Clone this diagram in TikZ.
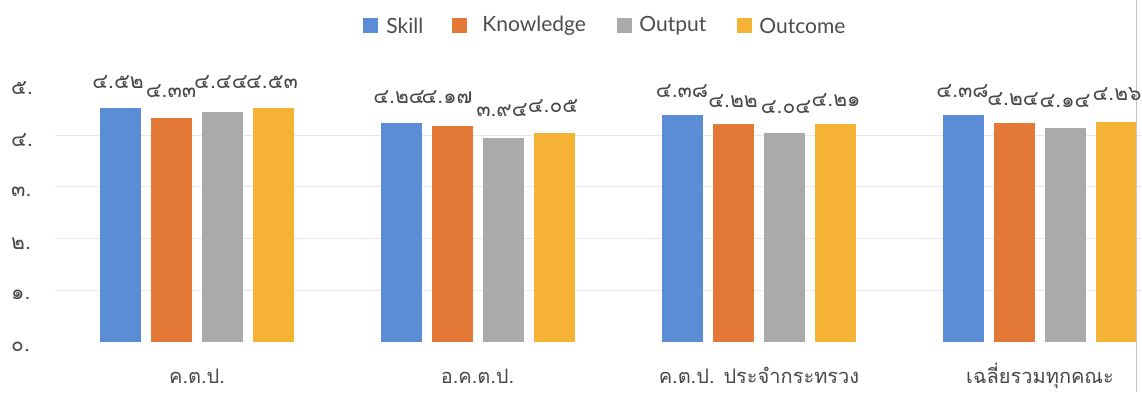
\documentclass[tikz,border=0pt]{standalone}
\usepackage{fontspec}
\setmainfont{Lato}
\newfontfamily\thaifont[Script=Thai]{Loma}
\usepackage{tikz}
\usetikzlibrary{positioning}
\definecolor{skillc}{RGB}{91,141,214}
\definecolor{knowc}{RGB}{228,120,55}
\definecolor{outputc}{RGB}{170,170,170}
\definecolor{outcomec}{RGB}{245,178,52}
\tikzstyle{skill}   = [fill=skillc]
\tikzstyle{know}    = [fill=knowc]
\tikzstyle{output}  = [fill=outputc]
\tikzstyle{outcome} = [fill=outcomec]
\tikzstyle{grid}    = [draw=black!9, line width=0.8pt]
\tikzstyle{val}     = [inner sep=0pt, text=black!72, font=\thaifont\fontsize{21}{24}\selectfont]
\tikzstyle{tick}    = [val, anchor=west, yshift=-5pt]
\tikzstyle{cat}     = [inner sep=0pt, anchor=base, text depth=0pt, text=black!72, font=\thaifont\fontsize{20}{24}\selectfont]
\tikzstyle{key}     = [inner sep=0pt, minimum size=15pt]
\tikzstyle{keytext} = [inner sep=0pt, text=black!70, font=\fontsize{21}{25}\selectfont]

\begin{document}
\begin{tikzpicture}[x=1pt, y=-1pt]
\useasboundingbox (0,0) rectangle (1142,392);

% legend
\node [key, skill]   at ( 370.5 , 25.5 ) (kskill)   {};
\node [key, know]    at ( 459.5 , 25.5 ) (kknow)    {};
\node [key, output]  at ( 624.5 , 25.5 ) (koutput)  {};
\node [key, outcome] at ( 744.5 , 25.5 ) (koutcome) {};
\node [keytext, right=8pt of kskill]     (tskill)   {Skill};
\node [keytext, right=15pt of kknow]     (tknow)    {Knowledge};
\node [keytext, right=7pt of koutput]    (toutput)  {Output};
\node [keytext, right=7pt of koutcome]   (toutcome) {Outcome};

\begin{scope}[shift={(0,341.5)}, y=51.6pt]

% grid
\coordinate (g1a) at (  55 , 1 ); \coordinate (g1b) at ( 1142 , 1 );
\coordinate (g2a) at (  55 , 2 ); \coordinate (g2b) at ( 1142 , 2 );
\coordinate (g3a) at (  55 , 3 ); \coordinate (g3b) at ( 1142 , 3 );
\coordinate (g4a) at (  55 , 4 ); \coordinate (g4b) at ( 1142 , 4 );
\draw [grid] (g1a) -- (g1b);
\draw [grid] (g2a) -- (g2b);
\draw [grid] (g3a) -- (g3b);
\draw [grid] (g4a) -- (g4b);

% axis
\node [tick] at ( 11 , 0 ) (y0) {๐.};
\node [tick] at ( 11 , 1 ) (y1) {๑.};
\node [tick] at ( 11 , 2 ) (y2) {๒.};
\node [tick] at ( 11 , 3 ) (y3) {๓.};
\node [tick] at ( 11 , 4 ) (y4) {๔.};
\node [tick] at ( 11 , 5 ) (y5) {๕.};

% bars
\fill [skill]   (  100 , 0 ) rectangle ++( 40.5 , 4.52 );
\fill [know]    (  151 , 0 ) rectangle ++( 40.5 , 4.33 );
\fill [output]  (  202 , 0 ) rectangle ++( 40.5 , 4.44 );
\fill [outcome] (  253 , 0 ) rectangle ++( 40.5 , 4.53 );

\fill [skill]   (  381 , 0 ) rectangle ++( 40.5 , 4.24 );
\fill [know]    (  432 , 0 ) rectangle ++( 40.5 , 4.17 );
\fill [output]  (  483 , 0 ) rectangle ++( 40.5 , 3.94 );
\fill [outcome] (  534 , 0 ) rectangle ++( 40.5 , 4.05 );

\fill [skill]   (  662 , 0 ) rectangle ++( 40.5 , 4.38 );
\fill [know]    (  713 , 0 ) rectangle ++( 40.5 , 4.22 );
\fill [output]  (  764 , 0 ) rectangle ++( 40.5 , 4.04 );
\fill [outcome] (  815 , 0 ) rectangle ++( 40.5 , 4.21 );

\fill [skill]   (  943 , 0 ) rectangle ++( 40.5 , 4.38 );
\fill [know]    (  994 , 0 ) rectangle ++( 40.5 , 4.24 );
\fill [output]  ( 1045 , 0 ) rectangle ++( 40.5 , 4.14 );
\fill [outcome] ( 1096 , 0 ) rectangle ++( 40.5 , 4.26 );

\end{scope}

% frame edge
\coordinate (edgetop) at ( 1136.5 ,   0 );
\coordinate (edgebot) at ( 1136.5 , 392 );
\draw [black!22, line width=0.8pt] (edgetop) -- (edgebot);

% values
\node [val] at (  118   ,  82.5 ) (v11) {๔.๕๒};
\node [val] at (  171   ,  91.5 ) (v12) {๔.๓๓};
\node [val] at (  221   ,  82   ) (v13) {๔.๔๔};
\node [val] at (  272   ,  82   ) (v14) {๔.๕๓};

\node [val] at (  399   ,  97   ) (v21) {๔.๒๔};
\node [val] at (  447   ,  97   ) (v22) {๔.๑๗};
\node [val] at (  502   , 110.5 ) (v23) {๓.๙๔};
\node [val] at (  553   , 106   ) (v24) {๔.๐๕};

\node [val] at (  682   ,  90.7 ) (v31) {๔.๓๘};
\node [val] at (  733   , 100.7 ) (v32) {๔.๒๒};
\node [val] at (  786   , 106.7 ) (v33) {๔.๐๔};
\node [val] at (  836   , 100   ) (v34) {๔.๒๑};

\node [val] at (  962.5 ,  90.7 ) (v41) {๔.๓๘};
\node [val] at ( 1013   ,  99   ) (v42) {๔.๒๔};
\node [val] at ( 1065   , 101   ) (v43) {๔.๑๔};
\node [val] at ( 1117   ,  94   ) (v44) {๔.๒๖};

% categories
\node [cat] at (  197   , 383 ) (c1) {ค.ต.ป.};
\node [cat] at (  477.5 , 383 ) (c2) {อ.ค.ต.ป.};
\node [cat] at (  759   , 383 ) (c3) {ค.ต.ป. ประจำกระทรวง};
\node [cat] at ( 1040   , 383 ) (c4) {เฉลี่ยรวมทุกคณะ};

\end{tikzpicture}
\end{document}
